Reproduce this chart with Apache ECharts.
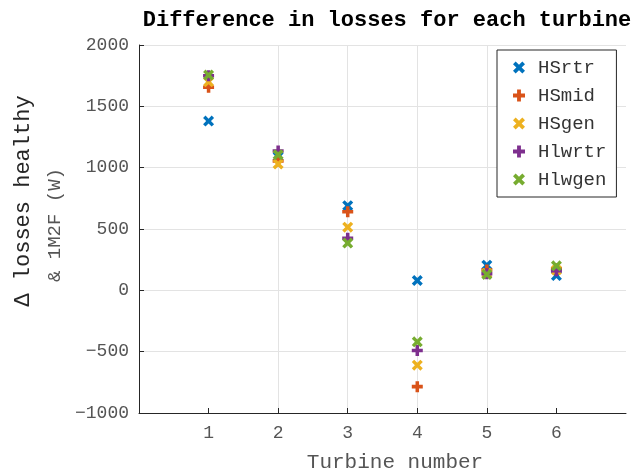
<!DOCTYPE html>
<html><head><meta charset="utf-8">
<script src="https://cdn.jsdelivr.net/npm/echarts@6/dist/echarts.min.js"></script>
<style>html,body{margin:0;padding:0;background:#fff}#c{width:637px;height:475px}</style>
</head><body><div id="c"></div>
<script>
const turbines = [1, 2, 3, 4, 5, 6];
const seriesNames = ['HSrtr', 'HSmid', 'HSgen', 'Hlwrtr', 'Hlwgen'];
const HSrtr  = [1380, 1090, 690, 80, 205, 120];
const HSmid  = [1655, 1055, 640, -785, 165, 175];
const HSgen  = [1700, 1030, 515, -610, 140, 165];
const Hlwrtr = [1750, 1135, 425, -490, 135, 160];
const Hlwgen = [1755, 1105, 385, -420, 130, 200];
const yTicks = [-1000, -500, 0, 500, 1000, 1500, 2000];
const xTicks = [1, 2, 3, 4, 5, 6];

const colors = ['#0072BD', '#D95319', '#EDB120', '#7E2F8E', '#77AC30'];
const X = 'path://M0,2.2L2.2,0L5,2.8L7.8,0L10,2.2L7.2,5L10,7.8L7.8,10L5,7.2L2.2,10L0,7.8L2.8,5Z';
const P = 'path://M3.4,0H6.6V3.4H10V6.6H6.6V10H3.4V6.6H0V3.4H3.4Z';
const symbols = [X, P, X, P, X];
const values = [HSrtr, HSmid, HSgen, Hlwrtr, Hlwgen];
const FONT = '"Liberation Mono", "Courier New", monospace';
const TXT = '#262626';
const LBL = '#555555';

const chart = echarts.init(document.getElementById('c'));
chart.setOption({
  animation: false,
  textStyle: { fontFamily: FONT },
  grid: { left: 139, right: 11, top: 45, bottom: 62 },
  xAxis: {
    type: 'value', min: 0, max: 7, interval: 1,
    axisLine: { onZero: false, lineStyle: { color: TXT, width: 1 } },
    axisTick: { inside: true, length: 5, customValues: xTicks, lineStyle: { color: TXT } },
    axisLabel: { fontFamily: FONT, fontSize: 18, color: LBL, margin: 11, customValues: xTicks },
    splitLine: { show: true, showMinLine: false, showMaxLine: false, lineStyle: { color: '#e3e3e3' } }
  },
  yAxis: {
    type: 'value', min: yTicks[0], max: yTicks[yTicks.length - 1], interval: 500,
    axisLine: { show: true, onZero: false, lineStyle: { color: TXT, width: 1 } },
    axisTick: { show: true, inside: true, length: 5, lineStyle: { color: TXT } },
    axisLabel: { fontFamily: FONT, fontSize: 18, color: LBL, margin: 10,
      formatter: v => String(v).replace('-', '\u2212') },
    splitLine: { show: true, lineStyle: { color: '#e3e3e3' } }
  },
  legend: {
    orient: 'vertical', left: 497, top: 50,
    data: seriesNames,
    backgroundColor: '#fff', borderColor: '#262626', borderWidth: 1,
    padding: [8, 10, 8, 16],
    itemWidth: 12, itemHeight: 12, itemGap: 9,
    textStyle: { fontFamily: FONT, fontSize: 19, color: '#333', padding: [0, 0, 0, 8] }
  },
  series: seriesNames.map((name, i) => ({
    name, type: 'scatter',
    symbol: symbols[i], symbolSize: 11,
    itemStyle: { color: colors[i], opacity: 1 },
    data: turbines.map((t, j) => [t, values[i][j]])
  })),
  graphic: [
    { type: 'text', x: 387, y: 20, style: { text: 'Difference in losses for each turbine', font: 'bold 22px ' + FONT, fill: '#000', align: 'center', verticalAlign: 'middle' } },
    { type: 'text', x: 395, y: 462, style: { text: 'Turbine number', font: '21px ' + FONT, fill: LBL, align: 'center', verticalAlign: 'middle' } },
    { type: 'text', x: 23, y: 201, rotation: Math.PI / 2, style: { text: '\u0394 losses healthy', font: '22px ' + FONT, fill: TXT, align: 'center', verticalAlign: 'middle' } },
    { type: 'text', x: 55, y: 225, rotation: Math.PI / 2, style: { text: '& 1M2F (W)', font: '19px ' + FONT, fill: LBL, align: 'center', verticalAlign: 'middle' } }
  ]
});
</script></body></html>
